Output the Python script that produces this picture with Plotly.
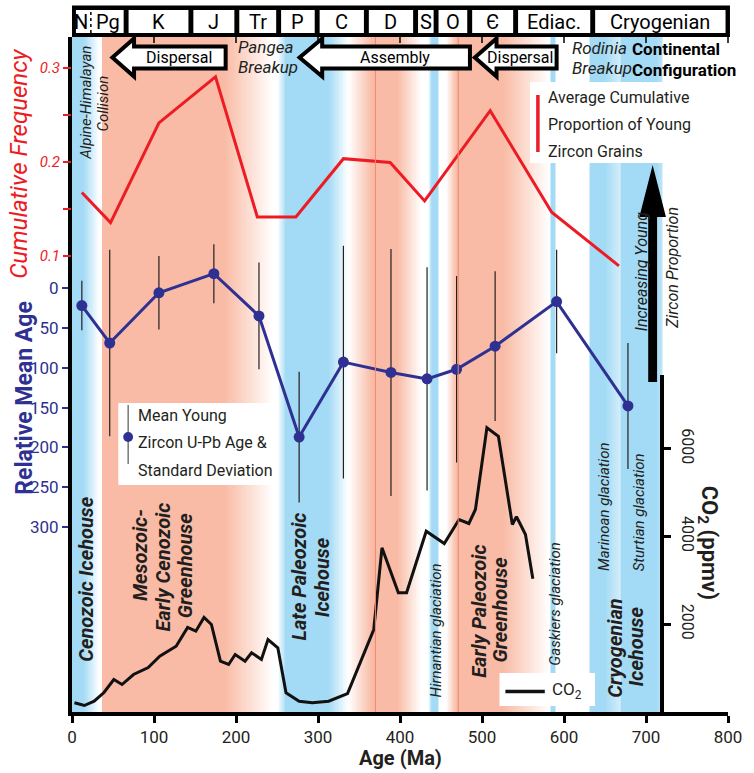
import numpy as np
import plotly.graph_objects as go

# ---------------- data ----------------
cf_age = [12, 47, 106, 175, 226, 273, 331, 388, 430, 510, 585, 667]
cf_val = [0.167, 0.135, 0.241, 0.290, 0.141, 0.141, 0.203, 0.199, 0.158, 0.254, 0.146, 0.089]

zr_age = [12, 46, 106, 173, 228, 277, 331, 389, 433, 469, 516, 591, 678]
zr_mean = [22, 69, 6, -18, 35, 187, 93, 106, 114, 102, 73, 17, 148]
zr_sd = [31, 117, 46, 37, 67, 82, 146, 155, 140, 117, 94, 65, 79]

co2_age = [3, 15, 27, 39, 51, 61, 75, 93, 107, 127, 141, 151, 161, 170, 181, 191, 199, 211, 219, 231,
           239, 251, 261, 277, 293, 313, 336, 368, 378, 398, 408, 432, 454, 472, 484, 492, 506, 520,
           537, 542, 546, 553, 562]
co2_ppm = [210, 148, 246, 444, 740, 626, 854, 1014, 1271, 1499, 1925, 1841, 2153, 1993, 1157, 1082,
           1310, 1157, 1349, 1196, 1651, 1462, 437, 246, 210, 246, 421, 1879, 3740, 2715, 2715, 4118,
           3838, 4385, 4294, 4613, 6474, 6282, 4271, 4449, 4305, 4043, 3034]

periods = ['N', 'Pg', 'K', 'J', 'Tr', 'P', 'C', 'D', 'S', 'O', 'Є', 'Ediac.', 'Cryogenian']
period_bounds = [0, 23, 66, 145, 201, 252, 299, 359, 419, 444, 485, 541, 635, 720]

x_ticks = [0, 100, 200, 300, 400, 500, 600, 700, 800]
cf_ticks = [0.1, 0.2, 0.3]
cf_minor_ticks = [0.15, 0.25]
age_ticks = [0, 50, 100, 150, 200, 250, 300]
co2_ticks = [2000, 4000, 6000]

# background climate bands: (Ma, intensity) -1 = icehouse blue, +1 = greenhouse salmon
band_ma = [0, 14, 33, 36.5, 37, 186, 245, 251, 261, 313, 337, 366, 397, 426, 434, 439, 446, 447,
           456, 469, 526, 582, 583, 584, 589, 590, 631, 632, 650, 668, 670, 713, 720, 721, 800]
band_v = [-1, -1, 0, 0, 1, 1, 0, 0, -1, -1, 0, 1, 1, 0, 0, -1, -1, 0,
          0, 1, 1, 0, 0, -1, -1, 0, 0, -1, -1, -0.5, -1, -1, -0.7, 0, 0]

# ---------------- layout geometry ----------------
W, H = 754, 773
ML, MR, MT, MB = 72, 16, 37, 61
PW = W - ML - MR
PH = H - MT - MB
YB = H - MB

FONT = "Roboto, 'Open Sans', sans-serif"
RED = '#ed1c24'
BLUE = '#2e3192'
INK = '#231f20'


def fx(px):
    return (px - ML) / PW


def fy(py):
    return (YB - py) / PH


def ma_px(ma):
    return ML + ma * PW / 800.0


def path(points):
    return 'M ' + ' L '.join(f'{fx(x):.5f},{fy(y):.5f}' for x, y in points) + ' Z'


# axis calibrations (pixel of value)
cf_range = [(349.5 - YB) / 940.0, (349.5 - MT) / 940.0]
age_range = [(YB - 288) / 0.797, (MT - 288) / 0.797]
co2_top_px = 375
co2_range = [0, (YB - co2_top_px) / 0.0439]

fig = go.Figure()

# background bands
edges = np.arange(0, 801, 1.0)
centers = (edges[:-1] + edges[1:]) / 2
zrow = np.interp(centers, band_ma, band_v)
fig.add_trace(go.Heatmap(
    x=edges, y=cf_range, z=[zrow], zmin=-1, zmax=1,
    colorscale=[[0, 'rgb(163,218,245)'], [0.5, 'rgb(255,255,255)'], [1, 'rgb(249,187,165)']],
    showscale=False, hoverinfo='skip', xaxis='x', yaxis='y'))

fig.add_trace(go.Scatter(x=cf_age, y=cf_val, mode='lines', line=dict(color=RED, width=3),
                         xaxis='x', yaxis='y', showlegend=False))
fig.add_trace(go.Scatter(x=zr_age, y=zr_mean, mode='lines+markers',
                         line=dict(color=BLUE, width=3), marker=dict(color=BLUE, size=11),
                         error_y=dict(type='data', array=zr_sd, symmetric=True, color=INK,
                                      thickness=1.2, width=0),
                         xaxis='x', yaxis='y2', showlegend=False))
fig.add_trace(go.Scatter(x=co2_age, y=co2_ppm, mode='lines', line=dict(color='#111111', width=3),
                         xaxis='x', yaxis='y3', showlegend=False))

shapes = []
# salmon boundary lines
for m in (370, 471):
    shapes.append(dict(type='line', xref='paper', yref='paper', x0=fx(ma_px(m)), x1=fx(ma_px(m)),
                       y0=0, y1=1, line=dict(color='rgb(240,135,110)', width=1), layer='above'))

# timescale bar
shapes.append(dict(type='rect', xref='paper', yref='paper', x0=fx(72), x1=fx(740), y0=fy(37), y1=fy(5.5),
                   fillcolor='black', line=dict(width=0)))
g = 3.0
groups = [(0, 66)] + [(period_bounds[i], period_bounds[i + 1]) for i in range(2, len(period_bounds) - 1)]
groups[-1] = (groups[-1][0], 800)
for a, b in groups:
    x0 = max(ma_px(a + g), 76)
    x1 = min(ma_px(b - g), 736)
    shapes.append(dict(type='rect', xref='paper', yref='paper', x0=fx(x0), x1=fx(x1), y0=fy(33), y1=fy(10),
                       fillcolor='white', line=dict(width=0)))
shapes.append(dict(type='line', xref='paper', yref='paper', x0=fx(ma_px(23)), x1=fx(ma_px(23)),
                   y0=fy(33), y1=fy(10), line=dict(color='black', width=1.5, dash='dot')))
for t in x_ticks[1:]:
    shapes.append(dict(type='line', xref='paper', yref='paper', x0=fx(ma_px(t)), x1=fx(ma_px(t)),
                       y0=fy(37), y1=fy(43), line=dict(color='black', width=1.5)))


def left_arrow(tip, head_end, tail, cy=57.5, hh=19, sh=11):
    return path([(tip, cy), (head_end, cy - hh), (head_end, cy - sh), (tail, cy - sh),
                 (tail, cy + sh), (head_end, cy + sh), (head_end, cy + hh)])


for tip, he, tail in [(113, 135, 228), (303, 326, 476), (481, 503, 564)]:
    shapes.append(dict(type='path', xref='paper', yref='paper', path=left_arrow(tip, he, tail),
                       fillcolor='white', line=dict(color='black', width=4)))

# big black up arrow
shapes.append(dict(type='path', xref='paper', yref='paper',
                   path=path([(661.5, 165), (675, 217), (666, 217), (666, 382), (657, 382), (657, 217), (648, 217)]),
                   fillcolor='black', line=dict(width=0)))

# legend boxes
shapes.append(dict(type='rect', xref='paper', yref='paper', x0=fx(537), x1=fx(696), y0=fy(163), y1=fy(82),
                   fillcolor='white', line=dict(width=0)))
shapes.append(dict(type='line', xref='paper', yref='paper', x0=fx(545), x1=fx(545), y0=fy(152), y1=fy(95),
                   line=dict(color=RED, width=3.5)))
shapes.append(dict(type='rect', xref='paper', yref='paper', x0=fx(119), x1=fx(276), y0=fy(485), y1=fy(403),
                   fillcolor='white', line=dict(width=0)))
shapes.append(dict(type='line', xref='paper', yref='paper', x0=fx(129), x1=fx(129), y0=fy(464), y1=fy(405),
                   line=dict(color='#555555', width=1.2)))
shapes.append(dict(type='circle', xref='paper', yref='paper', x0=fx(124), x1=fx(134), y0=fy(442), y1=fy(432),
                   fillcolor=BLUE, line=dict(width=0)))
shapes.append(dict(type='rect', xref='paper', yref='paper', x0=fx(506), x1=fx(603), y0=fy(706), y1=fy(673),
                   fillcolor='white', line=dict(width=0)))
shapes.append(dict(type='line', xref='paper', yref='paper', x0=fx(512), x1=fx(552), y0=fy(691.5), y1=fy(691.5),
                   line=dict(color='#111111', width=3.5)))

annotations = []


def txt(px, py, text, size=16, color=INK, angle=0, xanchor='center', yanchor='middle'):
    annotations.append(dict(xref='paper', yref='paper', x=fx(px), y=fy(py), text=text, showarrow=False,
                            textangle=angle, xanchor=xanchor, yanchor=yanchor,
                            font=dict(family=FONT, size=size, color=color)))


# period labels
centers_px = [ma_px(11.5), ma_px(44.5)]
for i in range(2, len(periods)):
    a, b = period_bounds[i], period_bounds[i + 1]
    if i == len(periods) - 1:
        b = 800
    centers_px.append(ma_px((a + b) / 2))
for lab, cx in zip(periods, centers_px):
    txt(cx, 22, lab, size=20, color='black')

# arrow texts
txt(181, 57, 'Dispersal', 16, 'black')
txt(400, 57, 'Assembly', 16, 'black')
txt(527, 57, 'Dispersal', 16, 'black')

txt(239, 47, '<i>Pangea</i>', 17, xanchor='left')
txt(239, 67, '<i>Breakup</i>', 17, xanchor='left')
txt(578, 48, '<i>Rodinia</i>', 17, xanchor='left')
txt(578, 68, '<i>Breakup</i>', 17, xanchor='left')
txt(639, 49, '<b>Continental</b>', 17, 'black', xanchor='left')
txt(639, 70, '<b>Configuration</b>', 17, 'black', xanchor='left')
txt(86, 103, '<i>Alpine-Himalayan</i>', 15, angle=-90)
txt(103, 104, '<i>Collision</i>', 15, angle=-90)

# legend texts
txt(553, 98, 'Average Cumulative', 16, xanchor='left')
txt(553, 124, 'Proportion of Young', 16, xanchor='left')
txt(553, 151, 'Zircon Grains', 16, xanchor='left')
txt(137, 415, 'Mean Young', 16, xanchor='left')
txt(137, 442, 'Zircon U-Pb Age &amp;', 16, xanchor='left')
txt(137, 470, 'Standard Deviation', 16, xanchor='left')
txt(557, 690, 'CO<sub>2</sub>', 17, xanchor='left')

# axis titles
txt(18, 164, '<i>Cumulative Frequency</i>', 24, RED, angle=-90)
txt(23, 398, '<b>Relative Mean Age</b>', 23, BLUE, angle=-90)
txt(405, 758, '<b>Age (Ma)</b>', 20, INK)
txt(718, 543, '<b>CO<sub>2</sub> (ppmv)</b>', 22, INK, angle=90)

# climate labels
txt(86, 579, '<b><i>Cenozoic Icehouse</i></b>', 20, angle=-90)
txt(141, 555, '<b><i>Mesozoic-</i></b>', 20, angle=-90)
txt(164, 567, '<b><i>Early Cenozoic</i></b>', 20, angle=-90)
txt(187, 565, '<b><i>Greenhouse</i></b>', 20, angle=-90)
txt(302, 577, '<b><i>Late Paleozoic</i></b>', 20, angle=-90)
txt(326, 577, '<b><i>Icehouse</i></b>', 20, angle=-90)
txt(442, 630, '<i>Hirnantian glaciation</i>', 15, angle=-90)
txt(485, 611, '<b><i>Early Paleozoic</i></b>', 20, angle=-90)
txt(507, 609, '<b><i>Greenhouse</i></b>', 20, angle=-90)
txt(562, 604, '<i>Gaskiers glaciation</i>', 15, angle=-90)
txt(612, 507, '<i>Marinoan glaciation</i>', 15, angle=-90)
txt(648, 512, '<i>Sturtian glaciation</i>', 15, angle=-90)
txt(623, 648, '<b><i>Cryogenian</i></b>', 20, angle=-90)
txt(645, 646, '<b><i>Icehouse</i></b>', 20, angle=-90)
txt(650, 272, '<i>Increasing Young</i>', 16, angle=-90)
txt(681, 268, '<i>Zircon Proportion</i>', 16, angle=-90)

fig.update_layout(
    width=W, height=H, margin=dict(l=ML, r=MR, t=MT, b=MB),
    paper_bgcolor='white', plot_bgcolor='rgba(0,0,0,0)',
    font=dict(family=FONT, color=INK),
    showlegend=False,
    xaxis=dict(range=[0, 800], domain=[0, 1], tickvals=x_ticks, ticks='outside', ticklen=7, tickwidth=2.5,
               tickcolor='black', showline=True, linewidth=4, linecolor='black', showgrid=False,
               zeroline=False, tickfont=dict(size=17, color=INK), anchor='y'),
    yaxis=dict(range=cf_range, domain=[0, 1], tickvals=cf_ticks, ticks='outside',
               ticklen=8, tickwidth=2, tickcolor=RED, showline=False, showgrid=False, zeroline=False,
               tickfont=dict(size=15, color=RED, style='italic'), anchor='x',
               minor=dict(tickmode='array', tickvals=cf_minor_ticks, ticks='outside', ticklen=8,
                          tickwidth=2, tickcolor=RED, showgrid=False)),
    yaxis2=dict(range=age_range, overlaying='y', side='left', anchor='x', tickvals=age_ticks, ticks='outside',
                ticklen=6, tickwidth=2, tickcolor=BLUE, showline=True, linewidth=4, linecolor='black',
                showgrid=False, zeroline=False, tickfont=dict(size=17, color=BLUE)),
    yaxis3=dict(range=co2_range, domain=[0, fy(co2_top_px)], anchor='free', position=720 / 800, side='right',
                tickvals=co2_ticks, ticks='outside', ticklen=7, tickwidth=3, tickcolor='black',
                showline=True, linewidth=4, linecolor='black', showgrid=False, zeroline=False,
                tickangle=90, ticklabelstandoff=4, tickfont=dict(size=16, color=INK)),
    shapes=shapes, annotations=annotations,
)

fig.write_html('out.html')
